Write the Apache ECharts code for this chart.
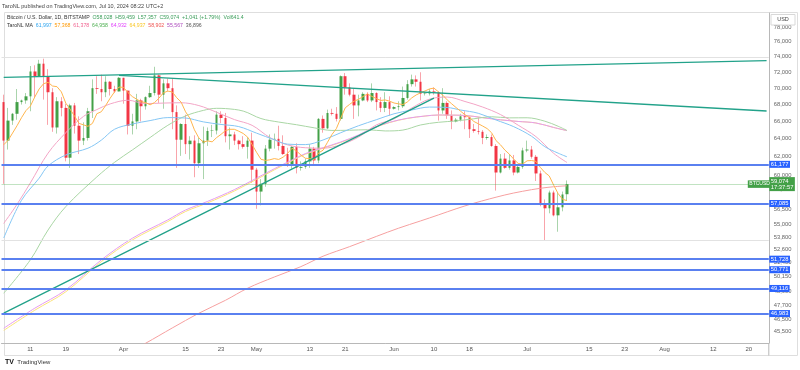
<!DOCTYPE html>
<html><head><meta charset="utf-8">
<script src="https://cdn.jsdelivr.net/npm/echarts@6/dist/echarts.min.js"></script>
<style>html,body{margin:0;padding:0;background:#fff}#c{width:800px;height:370px}</style>
</head><body><div id="c"></div><script>
// ---------- DATA ----------
// daily candles, Mar 5 2024 .. Jul 10 2024 (BITSTAMP BTCUSD, 1D)
const opens = [
68300,63800,66100,66900,68300,68500,69000,72100,71500,73100,
71400,69500,65300,68400,67600,61900,67900,65500,63800,64100,
67200,70000,69900,69500,70800,69900,69600,71300,69700,65500,
66000,68500,67800,68900,69400,71600,69200,70600,70000,67100,
63900,65700,63400,63800,61300,63500,63800,64900,64950,66800,
66400,64300,64500,63800,63400,63100,63800,60600,58300,59100,
62900,63900,64000,63200,62300,61200,63100,60800,60900,61500,
62900,61600,66300,65200,67000,66900,66300,71500,70100,69200,
67900,68500,69300,68500,69400,68300,67600,68300,67500,67700,
67800,68800,70500,71100,70800,69300,69350,69600,69500,67300,
68200,66700,66000,66200,66600,66500,65100,64900,64800,64100,
64200,63200,60300,61800,60800,61600,60300,60900,62700,62800,
62000,60200,57000,56600,58200,55900,56700,58028];
const highs = [
69200,67600,67000,69900,68600,69400,72800,72900,73600,73750,
72400,70000,68900,68900,68100,68100,68200,66600,65900,67600,
71100,71500,71700,71500,70900,70300,71400,71300,69700,66900,
69300,68700,69000,70300,72700,71700,71100,71200,71200,67900,
65800,66800,64300,64400,64100,65400,65300,65600,67200,67200,
67000,65300,64800,63900,64300,64200,64700,60800,59600,63300,
64500,64600,65500,64400,63000,63200,63500,61500,61800,63400,
63100,66400,66700,67400,67500,67700,71600,71900,70600,70000,
69200,69500,69500,70600,69500,68900,69500,69000,67800,68400,
70200,71000,71700,71600,72000,69500,69900,70100,69600,70000,
68400,67300,66400,66900,67200,66600,65700,66500,65000,64500,
64500,63400,62300,62400,62300,62200,61100,63000,63800,63200,
62200,60500,57500,58400,58400,58200,58300,59459];
const lows = [
59100,62800,65600,66200,68000,68100,67200,68800,71400,68600,
65600,64800,64600,66600,61500,60800,64600,62300,63300,63800,
66400,69300,68400,68900,69100,69400,69600,68100,64500,64500,
65100,66000,67400,68800,69100,68200,67500,69600,65100,60800,
62100,62300,61700,59800,60800,59600,63200,64200,64500,65800,
63600,62800,63300,62800,62900,61800,59200,56550,56900,58800,
62600,62900,62700,62200,60900,60700,60200,60500,60700,60800,
61100,61300,64700,65100,66700,66000,66100,69200,69000,66300,
66600,68400,68300,68300,67300,67100,67100,66700,67400,67300,
67600,68600,70200,70200,68500,69100,69100,69200,66100,66900,
66300,65100,65900,66000,65100,64100,64700,64500,63400,63900,
63100,58400,60200,60700,60600,60000,60200,60700,62500,61800,
59400,56800,53500,56100,55800,54300,56300,57357];
const closes = [
63800,66100,66900,68300,68500,69000,72100,71500,73100,71400,
69500,65300,68400,67600,61900,67900,65500,63800,64100,67200,
70000,69900,69500,70800,69900,69600,71300,69700,65500,66000,
68500,67800,68900,69400,71600,69200,70600,70000,67100,63900,
65700,63400,63800,61300,63500,63800,64900,64950,66800,66400,
64300,64500,63800,63400,63100,63800,60600,58300,59100,62900,
63900,64000,63200,62300,61200,63100,60800,60900,61500,62900,
61600,66300,65200,67000,66900,66300,71500,70100,69200,67900,
68500,69300,68500,69400,68300,67600,68300,67500,67700,67800,
68800,70500,71100,70800,69300,69350,69600,69500,67300,68200,
66700,66000,66200,66600,66500,65100,64900,64800,64100,64200,
63200,60300,61800,60800,61600,60300,60900,62700,62800,62000,
60200,57000,56600,58200,55900,56700,58000,59074];

// moving averages ([day index from Mar 5, value])
const maOrange = [
63330,63840,64660,65500,66430,67270,67810,68910,69910,70560,
70730,70270,70190,69540,68170,67430,66590,65770,65600,65430,
65770,66910,67140,67900,68770,69560,70140,70100,69470,68970,
68640,68340,68240,67970,68240,68770,69430,69640,69540,68830,
68300,67130,66360,65030,64100,63630,63770,63660,64140,64510,
64940,65090,65090,64870,64610,64190,63360,62500,61730,61600,
61670,61800,61710,61960,62370,62940,62640,62200,61840,61800,
61700,62430,62730,63610,64490,65170,66400,67610,68030,68410,
68630,68970,69290,68990,68730,68500,68560,68410,68190,68090,
68000,68310,68810,69170,69430,69660,69910,70010,69560,69140,
68560,68090,67640,67210,66790,66470,66000,65730,65460,65170,
64690,63800,63330,62740,62290,61740,61270,61200,61560,61590,
61500,60840,60310,59930,58960,58090,57510,57368];
const maBlue = [[0,53700],[4,57400],[8,59700],[10,61000],[14,62200],[19,62950],[22,63850],[25,65100],[29,65700],[33,66100],[37,66450],[41,66400],[45,65950],[49,65650],[53,65400],[57,64650],[61,63900],[64,63400],[68,63350],[72,63870],[76,64700],[80,65500],[84,66200],[88,66900],[92,67350],[96,67700],[100,67650],[103,67350],[107,66960],[111,66170],[115,65390],[119,64300],[122,63120],[125,62400],[127,61997]];
const maPink = [[0,55100],[3,57000],[6,59200],[10,62400],[14,64700],[18,66600],[21,67400],[24,68080],[28,68520],[32,68120],[36,68180],[40,68220],[44,67880],[48,67080],[52,66220],[56,65550],[60,64150],[64,63320],[68,63000],[72,62950],[76,63340],[80,64200],[84,65590],[88,66300],[92,67590],[96,68660],[100,68910],[104,68370],[108,67700],[112,66810],[116,65560],[120,64250],[124,62380],[127,61378]];
const maGreen = [[0,48700],[6,51660],[10,54470],[14,56770],[21,59830],[25,61400],[29,62750],[33,64150],[37,65550],[41,66650],[45,67300],[48,67550],[50,67520],[54,67220],[58,66340],[62,65930],[66,65620],[70,65260],[74,64960],[78,64980],[82,65040],[86,64900],[90,65000],[94,65590],[98,65900],[102,66060],[106,66310],[110,66550],[114,66420],[118,66430],[122,66030],[125,65440],[127,64958]];
const maMagenta = [[0,45780],[7,47430],[14,48990],[22,51660],[29,53680],[37,55450],[41,56430],[46,57300],[52,58500],[57,59700],[61,60700],[65,61650],[68,62350],[72,63000],[76,63650],[80,64440],[83,65200],[87,65900],[91,66370],[95,66640],[98,66760],[100,66750],[104,66710],[108,66440],[112,66190],[116,66000],[120,65820],[124,65300],[127,64932]];
const maYellow = [[0,45600],[7,47260],[14,48830],[22,51500],[29,53520],[37,55290],[41,56280],[46,57150],[52,58360],[57,59570],[61,60580],[65,61560],[68,62280],[72,62940],[76,63600],[80,64400],[83,65160],[87,65870],[91,66350],[95,66630],[98,66750],[100,66745],[104,66705],[108,66440],[112,66190],[116,66000],[120,65820],[124,65300],[127,64937]];
const maSalmon = [[28,43850],[32,44580],[38,45800],[44,47010],[50,48100],[55,49140],[61,50120],[67,51050],[72,52000],[78,52890],[84,53850],[89,54640],[94,55350],[98,55940],[102,56550],[106,57110],[113,57950],[117,58330],[121,58640],[124,58800],[127,58902]];

// trend lines drawn by the author ([date, price])
const trendUpper = [['2024-03-05',71361],['2024-08-24',73488]];
const trendLower = [['2024-03-31',71600],['2024-08-24',67230]];
const trendRising = [['2024-03-05',47014],['2024-06-10',68780]];

// horizontal levels
const blueLevels = [61177, 57085, 51728, 50771, 49116, 46983];
const grayLevels = [73900, 53500];
const lastPrice = 59074;
const lastTime = '17:37:57';

// axis ticks
const yTicks = [78000,76000,74000,72000,70000,68000,66000,64000,62000,60000,58500,56500,55000,53800,52600,51400,50150,48900,47700,46500,45500];
const xTickDates = ['2024-03-11','2024-03-19','2024-04-01','2024-04-15','2024-04-23','2024-05-01','2024-05-13','2024-05-21','2024-06-01','2024-06-10','2024-06-18','2024-07-01','2024-07-15','2024-07-23','2024-08-01','2024-08-12','2024-08-20'];
const xTickLabels = ['11','19','Apr','15','23','May','13','21','Jun','10','18','Jul','15','23','Aug','12','20'];

// ---------- BUILD ----------
const FONT = 'Liberation Sans, Arial, sans-serif';
const cats = [];
for (let i = 0; i < 173; i++) cats.push(new Date(Date.UTC(2024, 2, 5 + i)).toISOString().slice(0, 10));
const tickMap = {};
xTickDates.forEach((d, i) => tickMap[d] = xTickLabels[i]);
const fmt = v => String(v).replace(/\B(?=(\d{3})+(?!\d))/g, ',');
const pts = arr => arr.map(([i, v]) => [cats[i], v]);

const wicks = opens.map((o, i) => [o, closes[i], lows[i], highs[i]]);
const bodies = opens.map((o, i) => [o, closes[i], Math.min(o, closes[i]), Math.max(o, closes[i])]);

function maLine(name, data, color, smooth) {
  return {name, type: 'line', data, showSymbol: false, smooth: smooth, silent: true, z: 4,
    lineStyle: {color, width: 1}, emphasis: {disabled: true}};
}
function trend(data) {
  return {type: 'line', data, showSymbol: false, silent: true, z: 5,
    lineStyle: {color: '#22a28a', width: 1.3}, emphasis: {disabled: true}};
}
const HIDDEN = {color: 'rgba(0,0,0,0)', width: 0, type: 'solid'};

// tick labels (bottom layer)
const tickData = yTicks.map(v => ({yAxis: v, lineStyle: HIDDEN,
  label: {show: true, position: 'end', distance: 5, formatter: fmt(v), color: '#666', fontSize: 5.8, fontFamily: FONT}}));

// levels + boxes (top layer)
const levelData = [];
grayLevels.forEach(v => levelData.push({yAxis: v, lineStyle: {color: '#e2e2e2', width: 1, type: 'solid'}, label: {show: false}}));
levelData.push({yAxis: lastPrice, lineStyle: {color: 'rgba(76,175,80,0.35)', width: 1, type: 'solid'}, label: {show: false}});
blueLevels.forEach(v => levelData.push({yAxis: v, lineStyle: {color: '#5a80f0', width: 1.8, type: 'solid'},
  label: {show: true, position: 'end', distance: 0.5, formatter: fmt(v), color: '#fff', backgroundColor: '#2962ff',
    padding: [0.5, 1.5, 0.5, 1.5], fontSize: 5.8, lineHeight: 6, fontFamily: FONT}}));
levelData.push({yAxis: lastPrice, lineStyle: HIDDEN,
  label: {show: true, position: 'end', distance: 0.5, formatter: fmt(lastPrice) + '\n' + lastTime, color: '#fff',
    backgroundColor: '#43a047', padding: [1, 1.5, 1, 1.5], fontSize: 5.8, lineHeight: 6, fontFamily: FONT}});
levelData.push({yAxis: lastPrice, lineStyle: HIDDEN,
  label: {show: true, position: 'end', distance: -21, formatter: 'BTCUSD', color: '#fff',
    backgroundColor: '#43a047', padding: [1, 1.5, 1, 1.5], fontSize: 5, lineHeight: 5.5, fontFamily: FONT}});

const g = '#3b9e5a';
const option = {
  animation: false,
  grid: {left: 1.5, right: 31.2, top: 13, bottom: 27, containLabel: false, outerBoundsMode: 'none'},
  xAxis: {type: 'category', data: cats, boundaryGap: true,
    axisLine: {show: true, lineStyle: {color: '#b8b8b8', width: 1}}, axisTick: {show: false}, splitLine: {show: false},
    axisLabel: {interval: (idx, val) => tickMap[val] !== undefined, formatter: val => tickMap[val] || '',
      fontSize: 6, color: '#555', margin: 3, fontFamily: FONT}},
  yAxis: {type: 'log', logBase: 10, position: 'right', min: 44599, max: 79958,
    axisLine: {show: true, lineStyle: {color: '#b8b8b8', width: 1}}, axisTick: {show: false},
    axisLabel: {show: false}, splitLine: {show: false}},
  series: [
    {type: 'candlestick', data: wicks, barWidth: 1, silent: true, z: 2,
      itemStyle: {color: 'rgba(0,0,0,0)', color0: 'rgba(0,0,0,0)', borderColor: 'rgba(67,160,71,0.45)', borderColor0: 'rgba(242,54,69,0.45)', borderWidth: 1}},
    {type: 'candlestick', data: bodies, barWidth: 3, silent: true, z: 3,
      itemStyle: {color: '#43a047', color0: '#f23645', borderColor: '#43a047', borderColor0: '#f23645', borderWidth: 0}},
    maLine('MA200', pts(maSalmon), '#f6a0a0', 0.35),
    maLine('MA100b', pts(maYellow), '#fbe27a', 0.35),
    maLine('MA100', pts(maMagenta), '#e59cf0', 0.35),
    maLine('MA50', pts(maGreen), '#a9d6a4', 0.35),
    maLine('MA25', pts(maPink), '#f3a5c6', 0.35),
    maLine('MAb', pts(maBlue), '#84c6f4', 0.35),
    maLine('MA7', cats.slice(0, maOrange.length).map((d, i) => [d, maOrange[i]]), '#ffb54d', false),
    trend(trendUpper), trend(trendLower), trend(trendRising),
    {type: 'line', data: [], silent: true, z: 6,
      markLine: {silent: true, z: 5, symbol: ['none', 'none'], animation: false, emphasis: {disabled: true}, data: tickData}},
    {type: 'line', data: [], silent: true, z: 7,
      markLine: {silent: true, z: 8, symbol: ['none', 'none'], animation: false, emphasis: {disabled: true}, data: levelData}}
  ],
  graphic: [
    {type: 'rect', silent: true, z: -1, shape: {x: 4.5, y: 12.5, width: 793, height: 343}, style: {fill: 'none', stroke: '#dedede', lineWidth: 1}},
    {type: 'line', silent: true, z: 1, shape: {x1: 768.8, y1: 343, x2: 768.8, y2: 355.5}, style: {stroke: '#b8b8b8', lineWidth: 1}},
    {type: 'text', silent: true, z: 100, x: 2, y: 6, style: {text: 'TaroNL published on TradingView.com, Jul 10, 2024 08:22 UTC+2',
      fontSize: 5.5, fontFamily: FONT, fill: '#444', verticalAlign: 'middle'}},
    {type: 'text', silent: true, z: 100, x: 7, y: 17.5, style: {
      text: '{t|Bitcoin / U.S. Dollar, 1D, BITSTAMP}  {v|O58,028  H59,459  L57,357  C59,074  +1,041 (+1.79%)  Vol641.4}',
      verticalAlign: 'middle', fontSize: 5.2, fontFamily: FONT,
      rich: {t: {fill: '#333', fontSize: 5.2, fontFamily: FONT}, v: {fill: g, fontSize: 5.2, fontFamily: FONT}}}},
    {type: 'text', silent: true, z: 100, x: 7, y: 25.5, style: {
      text: '{t|TaroNL MA}  {a|61,997}  {b|57,368}  {c|61,378}  {d|64,958}  {e|64,932}  {f|64,937}  {h|58,902}  {i|55,567}  {j|36,896}',
      verticalAlign: 'middle', fontSize: 5.2, fontFamily: FONT,
      rich: {
        t: {fill: '#333', fontSize: 5.2, fontFamily: FONT},
        a: {fill: '#29a3f0', fontSize: 5.2, fontFamily: FONT},
        b: {fill: '#ff9800', fontSize: 5.2, fontFamily: FONT},
        c: {fill: '#f0628f', fontSize: 5.2, fontFamily: FONT},
        d: {fill: '#4caf50', fontSize: 5.2, fontFamily: FONT},
        e: {fill: '#e040fb', fontSize: 5.2, fontFamily: FONT},
        f: {fill: '#f9c623', fontSize: 5.2, fontFamily: FONT},
        h: {fill: '#ef5350', fontSize: 5.2, fontFamily: FONT},
        i: {fill: '#ab47bc', fontSize: 5.2, fontFamily: FONT},
        j: {fill: '#555', fontSize: 5.2, fontFamily: FONT}}}},
    {type: 'rect', silent: true, z: 100, shape: {x: 771, y: 14.5, width: 24, height: 10.5}, style: {fill: '#fff', stroke: '#d8d8d8', lineWidth: 1}},
    {type: 'text', silent: true, z: 101, x: 783, y: 19.8, style: {text: 'USD', fontSize: 5.5, fontFamily: FONT, fill: '#444', align: 'center', verticalAlign: 'middle'}},
    {type: 'text', silent: true, z: 100, x: 5, y: 362, style: {text: '{l|TV} {n|TradingView}', verticalAlign: 'middle',
      rich: {l: {fill: '#111', fontSize: 7, fontWeight: 'bold', fontFamily: FONT}, n: {fill: '#333', fontSize: 6, fontFamily: FONT}}}}
  ]
};
const chart = echarts.init(document.getElementById('c'), null, {renderer: 'canvas'});
chart.setOption(option);
</script></body></html>
